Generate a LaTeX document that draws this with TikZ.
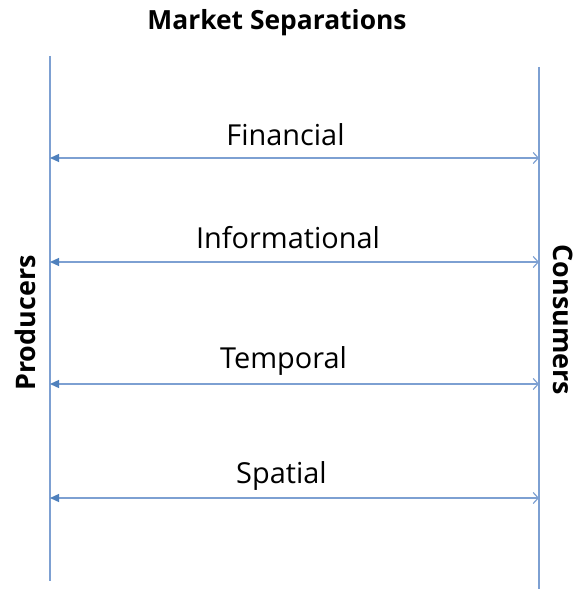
\documentclass[tikz,border=0pt]{standalone}
\usepackage{fontspec}
\setmainfont{Open Sans}
\usetikzlibrary{arrows.meta}
\definecolor{sepblue}{RGB}{79,129,189}
\definecolor{linblue}{RGB}{125,160,210}
\tikzset{
	sideline/.style={line width=1.3bp, color=linblue},
	seplink/.style={line width=1.3bp, color=linblue, {Triangle[length=9bp,width=8bp,color=sepblue]}-{Straight Barb[length=5bp,width=11bp,line width=1.2bp]}},
	seplabel/.style={font=\fontsize{29}{34}\selectfont, anchor=base},
	sidelabel/.style={font=\bfseries\fontsize{27}{32}\selectfont}
}

\begin{document}
\begin{tikzpicture}[x=1bp, y=-1bp]
		%%%%% START %%%%%
		\useasboundingbox (0, 0) rectangle (577, 590);
		
		\node[font=\bfseries\fontsize{26.5}{32}\selectfont, anchor=base] (title) at (277, 30) {Market Separations};
		
		\coordinate (ptop) at (50, 56);
		\coordinate (pbot) at (50, 581);
		\coordinate (ctop) at (539, 67);
		\coordinate (cbot) at (539, 589);
		\draw[sideline] (ptop) -- (pbot);
		\draw[sideline] (ctop) -- (cbot);
		
		\node[sidelabel, rotate=90] (prod) at (25, 323) {Producers};
		\node[sidelabel, rotate=-90] (cons) at (563, 320) {Consumers};
		
		\foreach \name/\yy/\tx/\ty/\txt in {fin/158/285.5/146/Financial, info/262/288/248/Informational, temp/384/283.5/368/Temporal, spat/498/281.5/483/Spatial} {
			\coordinate (\name l) at (50, \yy);
			\coordinate (\name r) at (539, \yy);
			\draw[seplink] (\name l) -- (\name r);
			\node[seplabel] (\name) at (\tx, \ty) {\txt};
		}
		
		%%%%% END %%%%%
	\end{tikzpicture}
\end{document}
